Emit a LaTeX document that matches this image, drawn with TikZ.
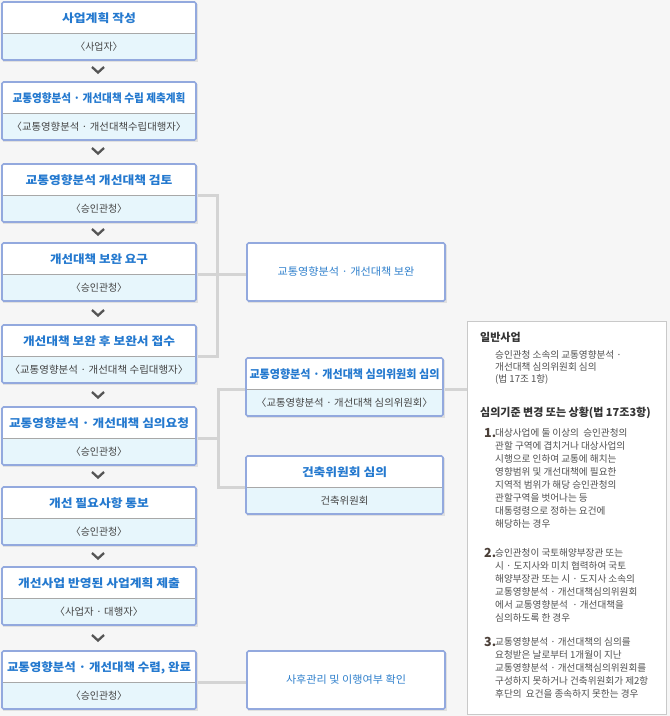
\documentclass[tikz,border=0pt]{standalone}
\usepackage{fontspec}
\setmainfont{Noto Sans CJK KR}
\usepackage{graphicx}
\definecolor{bgc}{HTML}{F6F6F6}
\definecolor{bordc}{HTML}{93A9DE}
\definecolor{titc}{HTML}{2479CF}
\definecolor{subc}{HTML}{E7F6FC}
\definecolor{divc}{HTML}{A8A8A8}
\definecolor{subt}{HTML}{444444}
\definecolor{chevc}{HTML}{555555}
\definecolor{connc}{HTML}{D4D4D4}
\definecolor{infob}{HTML}{C9C9C9}
\definecolor{infoh}{HTML}{333333}
\definecolor{infot}{HTML}{505050}
\definecolor{numc}{HTML}{4B3F38}
\definecolor{shadc}{HTML}{E0E0E0}
\definecolor{ratc}{HTML}{2F80CC}
\pgfdeclarelayer{bg}
\pgfsetlayers{bg,main}
\newsavebox\fitbox
\newcommand\fitto[2]{\sbox\fitbox{#2}\pgfmathsetmacro\fitf{#1/\the\wd\fitbox}\scalebox{\fitf}[1]{\usebox\fitbox}}
\newcommand\lbr{\kern-0.42em〈}
\newcommand\rbr{〉\kern-0.42em}
\tikzset{
 bordst/.style={draw=bordc, line width=1.6pt, rounded corners=1.5pt, inner sep=0pt},
 titletext/.style={text=titc, font=\fontsize{11.5}{13}\selectfont\bfseries, inner sep=0pt},
 subtext/.style={text=subt, font=\fontsize{10}{12}\selectfont, inner sep=0pt},
 plainbox/.style={bordst, fill=white, minimum width=198pt, minimum height=58pt, text=ratc, font=\fontsize{10.5}{12}\selectfont},
 chevst/.style={draw=chevc, line width=2.3pt},
 conn/.style={draw=connc, line width=3pt},
 infobox/.style={draw=infob, line width=1pt, fill=white, inner sep=0pt, minimum width=199pt, minimum height=393pt},
 infohead/.style={anchor=west, inner sep=0pt, text=infoh, font=\fontsize{11}{13}\selectfont\bfseries},
 infobody/.style={anchor=west, inner sep=0pt, text=infot, font=\fontsize{9.6}{12}\selectfont},
 infonum/.style={anchor=base west, inner sep=0pt, text=numc, font=\fontsize{12.5}{14}\selectfont\bfseries},
}
\newcommand\splitbox[8]{%
 \fill[shadc] ({#2+1},{#4+1.5}) rectangle ({#3+1.5},{#4+59.5});
 \fill[white] (#2,#4) rectangle (#3,{#4+58});
 \fill[subc] (#2,{#4+31.5}) rectangle (#3,{#4+58});
 \draw[divc, line width=0.8pt] (#2,{#4+31.5}) -- (#3,{#4+31.5});
 \coordinate (#1dl) at (#2,{#4+31.5});
 \coordinate (#1dr) at (#3,{#4+31.5});
 \node[bordst, minimum width={#3-#2}, minimum height=58pt] (#1) at ({(#2+#3)/2},{#4+29}) {};
 \node[titletext] (#1t) at ({(#2+#3)/2},{#4+16.5}) {\fitto{#6}{#5}};
 \node[subtext] (#1s) at ({(#2+#3)/2},{#4+45}) {\fitto{#8}{#7}};
}
\begin{document}
\begin{tikzpicture}[x=1pt,y=-1pt]
\begin{pgfonlayer}{bg}
\fill[bgc] (0,0) rectangle (670,716);
\end{pgfonlayer}
\useasboundingbox (0,0) rectangle (670,716);

\splitbox{b1}{2}{196}{2}{사업계획 작성}{74}{\lbr 사업자\rbr}{39}
\splitbox{b2}{2}{196}{82}{교통영향분석 · 개선대책 수립 제축계획}{173}{\lbr 교통영향분석 · 개선대책수립대행자\rbr}{166}
\splitbox{b3}{2}{196}{164}{교통영향분석 개선대책 검토}{147}{\lbr 승인관청\rbr}{48}
\splitbox{b4}{2}{196}{243}{개선대책 보완 요구}{98}{\lbr 승인관청\rbr}{48}
\splitbox{b5}{2}{196}{325}{개선대책 보완 후 보완서 접수}{152}{\lbr 교통영향분석 · 개선대책 수립대행자\rbr}{170}
\splitbox{b6}{2}{196}{407}{교통영향분석 · 개선대책 심의요청}{180}{\lbr 승인관청\rbr}{48}
\splitbox{b7}{2}{196}{487}{개선 필요사항 통보}{100}{\lbr 승인관청\rbr}{48}
\splitbox{b8}{2}{196}{567}{개선사업 반영된 사업계획 제출}{162}{\lbr 사업자 · 대행자\rbr}{80}
\splitbox{b9}{2}{196}{651}{교통영향분석 · 개선대책 수렴, 완료}{184}{\lbr 승인관청\rbr}{48}

\splitbox{rb}{246}{443}{358}{교통영향분석 · 개선대책 심의위원회 심의}{190}{\lbr 교통영향분석 · 개선대책 심의위원회\rbr}{168}
\splitbox{rc}{246}{443}{456}{건축위원회 심의}{85}{건축위원회}{48}

\fill[shadc] (248,244.5) rectangle (446.5,302.5);
\node[plainbox] (ra) at (346,272) {\fitto{137}{교통영향분석 · 개선대책 보완}};
\fill[shadc] (248,652.5) rectangle (446.5,710.5);
\node[plainbox] (rd) at (346,680) {\fitto{120}{사후관리 및 이행여부 확인}};

\node[infobox] (info) at (566.5,517.5) {};

\coordinate (j1) at (217,0);
\coordinate (j2) at (218,0);
\begin{pgfonlayer}{bg}
\draw[conn] (b3dr) -- (b3dr -| j1) -- (b5dr -| j1) -- (b5dr);
\draw[conn] (b4dr) -- (b4dr -| ra.west);
\draw[conn] (b6dr) -- (b6dr -| j2);
\draw[conn] (rbdl) -- (rbdl -| j2) -- (rcdl -| j2) -- (rcdl);
\draw[conn] (rbdr) -- (rbdr -| info.west);
\draw[conn] (b9dr) -- (b9dr -| rd.west);
\end{pgfonlayer}

\foreach \yy in {70,151,232,313,395,475,556,638}
  \draw[chevst] (92,\yy-3) -- (98,\yy+2.5) -- (104,\yy-3);

\node[infohead] (h1) at (480,337) {일반사업};
\foreach \txt [count=\i] in {승인관청 소속의 교통영향분석 ·, 개선대책 심의위원회 심의, (법 17조 1항)}
  \node[infobody] (g\i) at (495,{355+(\i-1)*12}) {\txt};

\node[infohead] (h2) at (480,413) {심의기준 변경 또는 상황(법 17조3항)};

\node[infonum] (n1) at (484,437.5) {1.};
\foreach \txt [count=\i] in {대상사업에 둘 이상의~~승인관청의, 관할 구역에 겹치거나 대상사업의, 시행으로 인하여 교통에 해치는, 영향범위 및 개선대책에 필요한, 지역적 범위가 해당 승인관청의, 관할구역을 벗어나는 등, 대통령령으로 정하는 요건에, 해당하는 경우}
  \node[infobody] (ia\i) at (495,{433+(\i-1)*13}) {\txt};

\node[infonum] (n2) at (484,557.5) {2.};
\foreach \txt [count=\i] in {승인관청이 국토해양부장관 또는, 시 · 도지사와 미치 협력하여 국토, 해양부장관 또는 시 · 도지사 소속의, 교통영향분석 · 개선대책심의위원회, 에서 교통영향분석~~· 개선대책을, 심의하도록 한 경우}
  \node[infobody] (ib\i) at (495,{553+(\i-1)*13}) {\txt};

\node[infonum] (n3) at (484,646.5) {3.};
\foreach \txt [count=\i] in {교통영향분석 · 개선대책의 심의를, 요청받은 날로부터 1개월이 지난, 교통영향분석 · 개선대책심의위원회를, 구성하지 못하거나 건축위원회가 제2항, 후단의~~요건을 종속하지 못한는 경우}
  \node[infobody] (ic\i) at (495,{642+(\i-1)*13}) {\txt};
\end{tikzpicture}
\end{document}
